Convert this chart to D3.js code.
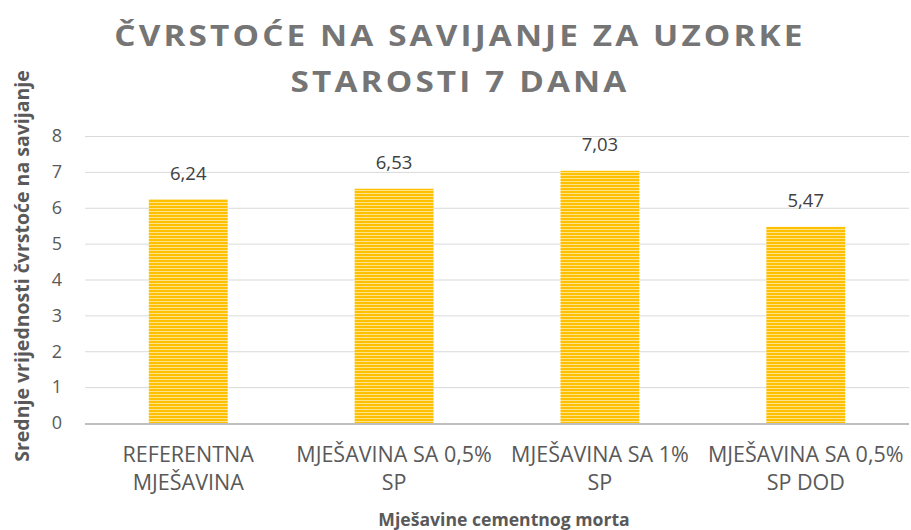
<!DOCTYPE html>
<html>
<head>
<meta charset="utf-8">
<script src="https://cdn.jsdelivr.net/npm/d3@7"></script>
<style>
  body { margin: 0; background: #fff; }
</style>
</head>
<body>
<svg width="911" height="530"></svg>
<script>
const categories = [
  ["REFERENTNA", "MJEŠAVINA"],
  ["MJEŠAVINA SA 0,5%", "SP"],
  ["MJEŠAVINA SA 1%", "SP"],
  ["MJEŠAVINA SA 0,5%", "SP DOD"]
];
const values = [6.24, 6.53, 7.03, 5.47];
const yTicks = [0, 1, 2, 3, 4, 5, 6, 7, 8];

const svg = d3.select("svg"),
    width = +svg.attr("width"),
    height = +svg.attr("height");

const margin = {top: 136, right: 2, bottom: 107, left: 85};

// striped fill like the office pattern
const defs = svg.append("defs");
const pat = defs.append("pattern")
    .attr("id", "stripes")
    .attr("patternUnits", "userSpaceOnUse")
    .attr("width", 6).attr("height", 3);
pat.append("rect").attr("width", 6).attr("height", 3).attr("fill", "#ffc000");
pat.append("rect").attr("y", 1).attr("width", 6).attr("height", 1).attr("fill", "#ffe38a");

const x = d3.scaleBand()
    .domain(d3.range(categories.length))
    .range([margin.left, width - margin.right])
    .paddingInner(0.617)
    .paddingOuter(0.31);

const y = d3.scaleLinear()
    .domain([0, 8])
    .range([height - margin.bottom, margin.top]);

// gridlines
svg.append("g")
  .selectAll("line")
  .data(yTicks.filter(d => d > 0))
  .join("line")
    .attr("x1", margin.left)
    .attr("x2", width - margin.right)
    .attr("y1", d => y(d) + 0.5)
    .attr("y2", d => y(d) + 0.5)
    .attr("stroke", "#d9d9d9")
    .attr("stroke-width", 1);

// y tick labels
svg.append("g")
  .selectAll("text")
  .data(yTicks)
  .join("text")
    .attr("x", 62)
    .attr("y", d => y(d))
    .attr("dy", "0.35em")
    .attr("text-anchor", "end")
    .attr("fill", "#595959")
    .style("font-family", "'Open Sans', sans-serif")
    .style("font-size", "18px")
    .text(d => d);

// bars
svg.append("g")
  .selectAll("rect")
  .data(values)
  .join("rect")
    .attr("x", (d, i) => x(i))
    .attr("width", x.bandwidth())
    .attr("y", d => y(d))
    .attr("height", d => y(0) - y(d))
    .attr("fill", "url(#stripes)");

// baseline
svg.append("line")
    .attr("x1", margin.left)
    .attr("x2", width - margin.right)
    .attr("y1", y(0) + 1)
    .attr("y2", y(0) + 1)
    .attr("stroke", "#bfbfbf")
    .attr("stroke-width", 2);

// value labels
svg.append("g")
  .selectAll("text")
  .data(values)
  .join("text")
    .attr("x", (d, i) => x(i) + x.bandwidth() / 2)
    .attr("y", d => y(d) - 19.5)
    .attr("text-anchor", "middle")
    .attr("fill", "#404040")
    .style("font-family", "'Open Sans', sans-serif")
    .style("font-size", "18.5px")
    .text(d => d.toFixed(2).replace(".", ","));

// category labels
const cat = svg.append("g")
  .selectAll("text")
  .data(categories)
  .join("text")
    .attr("x", (d, i) => x(i) + x.bandwidth() / 2)
    .attr("y", 462)
    .attr("text-anchor", "middle")
    .attr("fill", "#595959")
    .style("font-family", "'Open Sans', sans-serif")
    .style("font-size", "21.5px");
cat.selectAll("tspan")
  .data(d => d)
  .join("tspan")
    .attr("x", function () { return d3.select(this.parentNode).attr("x"); })
    .attr("dy", (d, i) => i === 0 ? 0 : 28)
    .text(d => d);

// axis titles
svg.append("text")
    .attr("x", (margin.left + width - margin.right) / 2 + 7)
    .attr("y", 526)
    .attr("text-anchor", "middle")
    .attr("fill", "#595959")
    .style("font-family", "'Open Sans', sans-serif")
    .style("font-weight", "bold")
    .style("font-size", "17.6px")
    .text("Mješavine cementnog morta");

svg.append("text")
    .attr("transform", "translate(29,266) rotate(-90)")
    .attr("text-anchor", "middle")
    .attr("fill", "#595959")
    .style("font-family", "'Open Sans', sans-serif")
    .style("font-weight", "bold")
    .style("font-size", "19.5px")
    .text("Srednje vrijednosti čvrstoće na savijanje");

// title (slightly stretched, office style)
const title = svg.append("text")
    .attr("transform", "translate(460,0) scale(1.15,1)")
    .attr("text-anchor", "middle")
    .attr("fill", "#757575")
    .style("font-family", "'Open Sans', sans-serif")
    .style("font-weight", "bold")
    .style("font-size", "29px")
    .style("letter-spacing", "2.7px");
title.append("tspan").attr("x", 0).attr("y", 46).text("ČVRSTOĆE NA SAVIJANJE ZA UZORKE");
title.append("tspan").attr("x", 0).attr("y", 92).text("STAROSTI 7 DANA");
</script>
</body>
</html>
